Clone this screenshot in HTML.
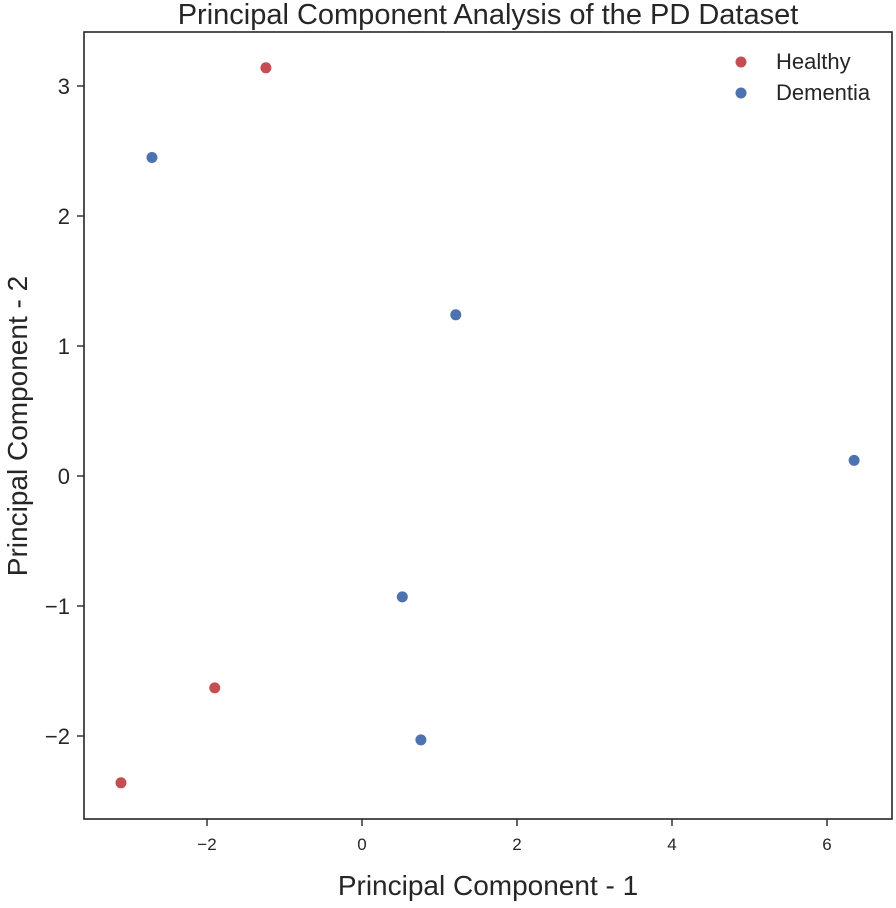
<!DOCTYPE html>
<html><head><meta charset="utf-8"><style>
body{margin:0;background:#fff;}
svg text{font-family:"Liberation Sans",Arial,sans-serif;fill:#262626;}
</style></head><body>
<svg width="896" height="903" xmlns="http://www.w3.org/2000/svg">
<g id="ticks"></g>
<g id="marks"></g>
<rect x="84" y="32" width="808" height="787" fill="none" stroke="#262626" stroke-width="1.6"/>
<text x="488" y="24" text-anchor="middle" font-size="29">Principal Component Analysis of the PD Dataset</text>
<text x="488" y="895" text-anchor="middle" font-size="28">Principal Component - 1</text>
<text transform="translate(27,426) rotate(-90)" text-anchor="middle" font-size="28">Principal Component - 2</text>
<g>
<circle cx="741" cy="62" r="5.5" fill="#c44e52"/>
<text x="776" y="69" font-size="22">Healthy</text>
<circle cx="741" cy="93" r="5.5" fill="#4c72b0"/>
<text x="776" y="100" font-size="22">Dementia</text>
</g>
</svg>
<script>
const healthyX=[-1.24,-1.90,-3.11];
const healthyY=[3.14,-1.63,-2.36];
const dementiaX=[-2.71,1.21,6.35,0.52,0.76];
const dementiaY=[2.45,1.24,0.12,-0.93,-2.03];
const xTicks=[-2,0,2,4,6];
const yTicks=[-2,-1,0,1,2,3];
const sx=v=>362+v*77.5;
const sy=v=>476-v*130;
const NS="http://www.w3.org/2000/svg";
const tg=document.getElementById('ticks'),mg=document.getElementById('marks');
function mk(tag,attrs,parent){const e=document.createElementNS(NS,tag);for(const k in attrs)e.setAttribute(k,attrs[k]);parent.appendChild(e);return e;}
xTicks.forEach(t=>{
 const l=mk('line',{x1:sx(t),x2:sx(t),y1:819,y2:826,stroke:'#262626','stroke-width':1.4},tg);
 
 
 const tx=mk('text',{x:sx(t),y:850,'text-anchor':'middle','font-size':17},tg);
 tx.textContent=t<0?'\u2212'+(-t):String(t);
 
 
});
yTicks.forEach(t=>{
 const l=mk('line',{x1:77,x2:84,y1:sy(t),y2:sy(t),stroke:'#262626','stroke-width':1.4},tg);
 
 
 const tx=mk('text',{x:70,y:sy(t)+8,'text-anchor':'end','font-size':22},tg);
 tx.textContent=t<0?'\u2212'+(-t):String(t);
 
 
});
healthyX.forEach((x,i)=>{
 const c=mk('circle',{cx:sx(x),cy:sy(healthyY[i]),r:5.5,fill:'#c44e52'},mg);
 
 
});
dementiaX.forEach((x,i)=>{
 const c=mk('circle',{cx:sx(x),cy:sy(dementiaY[i]),r:5.5,fill:'#4c72b0'},mg);
 
 
});
</script>
</body></html>
